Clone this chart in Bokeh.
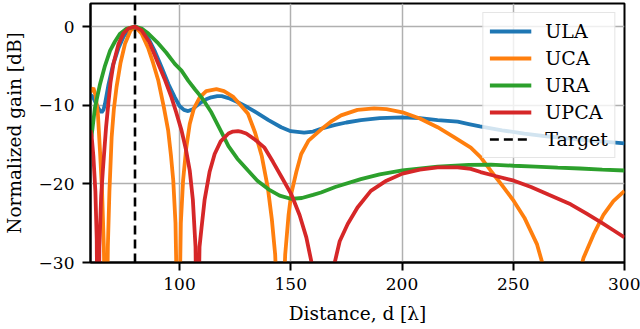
from bokeh.plotting import figure
from bokeh.models import FixedTicker, Range1d, Legend, LegendItem
from bokeh.embed import file_html
from bokeh.resources import INLINE

# ---- data ----
ula_x = [60, 61, 62, 63, 64, 65, 65.8, 66.5, 68, 70, 72.5, 75, 77.5, 80, 83, 86, 89, 92, 95, 97.9,
         100, 102, 103.9, 106, 108, 109.9, 112, 114.3, 117, 119, 122, 126, 130.8, 135, 140, 145.7,
         150, 156, 160, 163.6, 170, 175, 181.5, 190, 200, 208, 216, 225, 230, 235, 245, 255, 265,
         275, 285, 300]
ula_y = [-8.7, -8.9, -9.5, -10.1, -10.6, -10.9, -10.6, -9.85, -7.5, -5.0, -2.8, -1.2, -0.3, 0.0,
         -0.4, -1.5, -3.2, -5.2, -7.3, -9.0, -10.1, -10.6, -10.75, -10.5, -10.0, -9.6, -9.25, -9.0,
         -8.85, -8.85, -9.1, -9.6, -10.3, -11.0, -11.9, -12.8, -13.3, -13.5, -13.35, -13.0, -12.5,
         -12.2, -11.9, -11.65, -11.55, -11.65, -11.9, -12.1, -12.4, -12.7, -13.2, -13.6, -13.95,
         -14.25, -14.5, -14.85]

uca_x = [60, 61.3, 62.3, 63.3, 64.3, 65.2, 66.0, 67.0, 67.8, 68.5, 69.5, 70.5, 71.7, 73.5, 75.5,
         78, 80, 83, 86, 88, 90.5, 93, 94.9, 96.2, 97.2, 98.2, 99.5, 100.6, 101.6, 103, 104.6,
         106.5, 109.1, 112, 116.6, 120, 124, 127.5, 130.8, 134, 137, 139.7, 141.5, 143, 145.3,
         147.5, 149, 150.2, 152.5, 154.7, 158, 163.6, 168, 172.6, 180, 187.5, 193, 200.2, 208,
         216, 223, 230.9, 235.3, 239.8, 245, 250.3, 255, 260.7, 264, 272, 279, 281.6, 286, 290.6,
         295, 300]
uca_y = [-8.3, -7.8, -8.8, -11.0, -16.0, -21.0, -28.0, -45.0, -28.0, -21.0, -14.1, -10.5, -7.7,
         -4.6, -2.2, -0.5, 0.0, -0.9, -2.8, -4.5, -6.9, -10.3, -13.2, -16.5, -19.6, -25.0, -45.0,
         -25.0, -19.6, -15.5, -12.4, -10.4, -9.0, -8.2, -7.95, -8.2, -8.9, -10.0, -11.1, -13.5,
         -16.5, -20.5, -24.5, -29.0, -45.0, -29.0, -24.0, -21.3, -18.5, -16.2, -14.5, -13.1, -12.1,
         -11.3, -10.6, -10.4, -10.5, -10.9, -11.7, -12.8, -14.0, -15.4, -16.6, -18.3, -20.2, -22.2,
         -24.3, -27.7, -31.0, -45.0, -32.0, -29.4, -26.5, -23.9, -22.2, -20.9]

ura_x = [60, 60.5, 62, 64.3, 66.5, 68.8, 71, 73.3, 76, 80, 83, 86, 90, 94, 97.9, 100.9, 104, 107,
         109.9, 114.3, 118.8, 122, 126, 130.8, 135, 140, 145, 150, 155, 160, 163.6, 170, 181.5,
         190, 200.2, 216, 230, 240, 250.3, 260, 270, 280, 290, 300]
ura_y = [-14.5, -13.9, -10.3, -7.3, -5.0, -3.06, -1.9, -0.9, -0.3, 0.0, -0.25, -0.9, -2.0, -3.3,
         -4.75, -5.6, -6.9, -8.0, -9.0, -10.9, -13.4, -15.2, -16.8, -18.3, -19.6, -20.7, -21.5,
         -21.9, -21.8, -21.4, -21.1, -20.4, -19.4, -18.8, -18.3, -17.8, -17.6, -17.55, -17.7,
         -17.8, -17.95, -18.05, -18.2, -18.3]

upca_x = [60, 60.5, 61.3, 62.2, 62.8, 63.3, 64, 64.8, 65.5, 66.2, 67, 68, 69, 70.3, 72.5, 74.7,
          77, 80, 83, 86.5, 90.5, 93.5, 96.4, 98.5, 100.9, 102.8, 104.6, 106, 107.2, 108, 109,
          109.9, 111.3, 113.5, 115.8, 118.5, 122, 124, 126.3, 128, 130, 134, 138.2, 142, 146,
          150.2, 154, 157, 159.2, 161, 164.5, 168, 169.6, 172, 175.6, 180, 186, 193, 200.2, 208,
          216, 225, 230.9, 235.3, 242, 250.3, 258, 266, 275.8, 283, 290, 295, 300]
upca_y = [-13.2, -13.9, -16.5, -21.0, -27.0, -45.0, -28.0, -21.5, -18.5, -15.8, -12.8, -9.85,
          -7.1, -4.75, -2.3, -0.9, -0.25, 0.0, -0.5, -2.0, -4.75, -6.8, -9.0, -10.9, -13.2, -15.5,
          -18.3, -22.0, -28.0, -45.0, -28.0, -25.6, -22.0, -18.5, -16.2, -14.6, -13.6, -13.35,
          -13.3, -13.4, -13.6, -14.4, -15.4, -17.2, -19.2, -21.3, -24.0, -26.8, -29.8, -33.0,
          -45.0, -33.0, -30.2, -27.3, -25.1, -23.0, -20.9, -19.6, -18.7, -18.2, -17.9, -17.9,
          -18.1, -18.5, -19.0, -19.6, -20.4, -21.4, -22.6, -23.8, -25.0, -25.9, -26.8]

target_d = 80
series_names = ["ULA", "UCA", "URA", "UPCA"]
series_colors = ["#1f77b4", "#ff7f0e", "#2ca02c", "#d62728"]

x_min, x_max = 60, 300
y_min, y_max = -30, 2.93
x_ticks = [100, 150, 200, 250, 300]
y_ticks = [-30, -20, -10, 0]
y_tick_labels = ["\u221230", "\u221220", "\u221210", "0"]

FONT = "DejaVu Serif"

p = figure(width=640, height=329, output_backend="svg", toolbar_location=None,
           x_range=Range1d(x_min, x_max), y_range=Range1d(y_min, y_max),
           min_border_left=89, min_border_right=16, min_border_top=3, min_border_bottom=67)

p.background_fill_color = "white"
p.border_fill_color = "white"
p.outline_line_color = "black"
p.outline_line_width = 2

p.xaxis.ticker = FixedTicker(ticks=x_ticks)
p.yaxis.ticker = FixedTicker(ticks=y_ticks)
p.yaxis.major_label_overrides = {t: l for t, l in zip(y_ticks, y_tick_labels)}
p.xaxis.axis_label = "Distance, d [\u03bb]"
p.yaxis.axis_label = "Normalized gain [dB]"

for ax in (p.xaxis, p.yaxis):
    ax.axis_line_width = 2
    ax.axis_line_color = "black"
    ax.major_tick_line_width = 2
    ax.major_tick_line_color = "black"
    ax.major_tick_out = 8
    ax.major_tick_in = 0
    ax.minor_tick_line_color = None
    ax.major_label_text_font = FONT
    ax.major_label_text_font_size = "17px"
    ax.major_label_text_color = "black"
    ax.axis_label_text_font = FONT
    ax.axis_label_text_font_size = "18.5px"
    ax.axis_label_text_font_style = "normal"
    ax.axis_label_text_color = "black"
p.xaxis.major_label_standoff = 7
p.xaxis.axis_label_standoff = 10
p.yaxis.major_label_standoff = 8
p.yaxis.axis_label_standoff = 11

p.xgrid.ticker = FixedTicker(ticks=x_ticks)
p.ygrid.ticker = FixedTicker(ticks=y_ticks)
for g in (p.xgrid, p.ygrid):
    g.grid_line_color = "#b0b0b0"
    g.grid_line_width = 1.5

items = []
data = [(ula_x, ula_y), (uca_x, uca_y), (ura_x, ura_y), (upca_x, upca_y)]
for (xs, ys), name, col in zip(data, series_names, series_colors):
    r = p.line(xs, ys, line_color=col, line_width=3.8)
    items.append(LegendItem(label=name, renderers=[r]))

rt = p.line([target_d, target_d], [y_min, y_max], line_color="black", line_width=2.6,
            line_dash="9 5")
items.append(LegendItem(label="Target", renderers=[rt]))

legend = Legend(items=items, location="top_right")
legend.label_text_font = FONT
legend.label_text_font_size = "19px"
legend.label_text_color = "black"
legend.glyph_width = 42
legend.glyph_height = 24
legend.label_height = 24
legend.label_standoff = 14
legend.spacing = 3
legend.padding = 6
legend.margin = 9
legend.border_line_color = "#cccccc"
legend.border_line_width = 1.5
legend.background_fill_color = "white"
legend.background_fill_alpha = 0.8
p.add_layout(legend, "center")

with open("out.html", "w") as f:
    f.write(file_html(p, INLINE))
